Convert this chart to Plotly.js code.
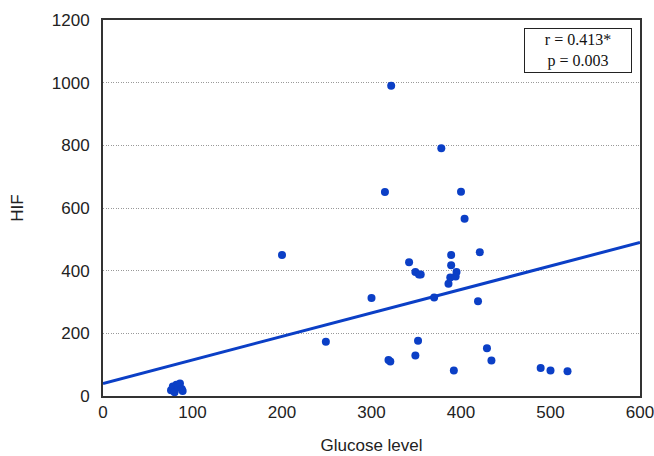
<!DOCTYPE html>
<html>
<head>
<meta charset="utf-8">
<script src="https://cdn.plot.ly/plotly-3.0.1.min.js"></script>
<style>html,body{margin:0;padding:0;background:#fff;}#chart{width:654px;height:456px;}</style>
</head>
<body>
<div id="chart"></div>
<script>
// Scatter points (Glucose level vs HIF)
const glucose = [76, 78, 80, 82, 84, 86, 88, 89,
  200, 249, 300, 315, 322, 319, 321, 342, 349, 353, 352, 349, 355,
  370, 378, 386, 388, 389, 389, 394, 395, 392, 400, 404, 419, 421,
  429, 434, 489, 500, 519];
const hif = [18, 30, 12, 36, 28, 40, 22, 16,
  450, 173, 313, 651, 990, 115, 110, 427, 396, 388, 176, 129, 388,
  314, 791, 358, 378, 417, 450, 381, 396, 81, 652, 566, 302, 459,
  152, 113, 89, 81, 79];
// Fitted trend line endpoints
const trendX = [0, 600];
const trendY = [40, 490];
const xTicks = [0, 100, 200, 300, 400, 500, 600];
const yTicks = [0, 200, 400, 600, 800, 1000, 1200];
const statLines = ["r = 0.413*", "p = 0.003"];

const blue = "#0b3fc6";
const traces = [
  {x: trendX, y: trendY, mode: "lines", line: {color: blue, width: 3}, hoverinfo: "skip", cliponaxis: false},
  {x: glucose, y: hif, mode: "markers", marker: {color: blue, size: 8}}
];
const layout = {
  width: 654, height: 456,
  margin: {l: 103, r: 14, t: 20, b: 60},
  paper_bgcolor: "#fff", plot_bgcolor: "#fff",
  showlegend: false,
  font: {family: "Liberation Sans, Arial, sans-serif", size: 17, color: "#222"},
  xaxis: {
    range: [0, 600], tickvals: xTicks, ticktext: xTicks.map(String),
    showgrid: false, zeroline: false, showline: true, mirror: true,
    linecolor: "#333", linewidth: 2, ticks: "", ticklen: 0,
    ticklabeloverflow: "allow",
    title: {text: "Glucose level", font: {size: 17}, standoff: 18}
  },
  yaxis: {
    range: [0, 1200], tickvals: yTicks, ticktext: yTicks.map(String),
    showgrid: true, gridcolor: "#999", griddash: "1px,1.5px", gridwidth: 1,
    zeroline: false, showline: true, mirror: true,
    linecolor: "#333", linewidth: 2, ticks: "", ticklen: 0,
    ticklabelstandoff: 8,
    title: {text: "HIF", font: {size: 17}, standoff: 24}
  },
  annotations: [{
    xref: "paper", yref: "paper", x: 0.985, y: 0.979, xanchor: "right", yanchor: "top",
    text: statLines.join("<br>"), showarrow: false, align: "center",
    font: {family: "Liberation Serif, Times New Roman, serif", size: 16, color: "#111"},
    bordercolor: "#222", borderwidth: 1, borderpad: 2, bgcolor: "#fff", width: 102
  }]
};
Plotly.newPlot("chart", traces, layout, {displayModeBar: false, staticPlot: true});
</script>
</body>
</html>
